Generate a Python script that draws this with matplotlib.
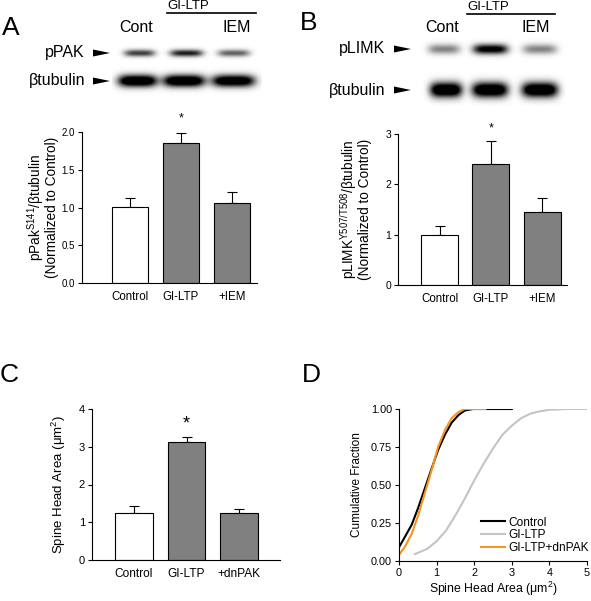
import numpy as np
import matplotlib
matplotlib.use('Agg')
import matplotlib.pyplot as plt
from matplotlib.patches import Polygon

plt.rcParams['font.family'] = ['Liberation Sans', 'DejaVu Sans']
plt.rcParams['mathtext.fontset'] = 'custom'
plt.rcParams['mathtext.rm'] = 'Liberation Sans'
plt.rcParams['mathtext.it'] = 'Liberation Sans:italic'

# ---- data ----
a_labels = ['Control', 'GI-LTP', '+IEM']
a_means = [1.01, 1.85, 1.06]
a_errs = [0.11, 0.14, 0.14]

b_labels = ['Control', 'GI-LTP', '+IEM']
b_means = [1.00, 2.41, 1.45]
b_errs = [0.18, 0.46, 0.28]

c_labels = ['Control', 'GI-LTP', '+dnPAK']
c_means = [1.25, 3.12, 1.24]
c_errs = [0.18, 0.15, 0.11]

# cumulative distributions (panel D)
ctrl_x = [0.0, 0.16, 0.34, 0.51, 0.69, 0.87, 1.04, 1.22, 1.40, 1.58, 1.75, 1.97, 2.3, 3.0]
ctrl_y = [0.09, 0.16, 0.24, 0.35, 0.48, 0.61, 0.73, 0.83, 0.91, 0.96, 0.99, 1.0, 1.0, 1.0]
gi_x = [0.42, 0.75, 1.0, 1.25, 1.5, 1.75, 2.0, 2.25, 2.5, 2.75, 3.0, 3.25, 3.5, 3.75, 4.0, 4.5, 5.0]
gi_y = [0.045, 0.08, 0.13, 0.20, 0.30, 0.41, 0.53, 0.64, 0.74, 0.83, 0.89, 0.94, 0.97, 0.985, 0.995, 1.0, 1.0]
dn_x = [0.0, 0.16, 0.34, 0.51, 0.69, 0.87, 1.04, 1.22, 1.40, 1.58, 1.75, 2.0, 2.3]
dn_y = [0.04, 0.095, 0.18, 0.30, 0.45, 0.60, 0.75, 0.86, 0.94, 0.98, 1.0, 1.0, 1.0]

# blot band intensities (0 = blank, 1 = saturated)
a_ppak = [0.55, 0.65, 0.45]
a_tub = [1.0, 1.0, 0.95]
b_plimk = [0.35, 0.8, 0.35]
b_tub = [1.0, 1.0, 1.0]

W, H = 591, 601
fig = plt.figure(figsize=(W / 100, H / 100), dpi=100)


def px_axes(x0, y0, x1, y1):
    return fig.add_axes([x0 / W, 1 - y1 / H, (x1 - x0) / W, (y1 - y0) / H])


# overlay in pixel coordinates for blots and letters
ov = fig.add_axes([0, 0, 1, 1], zorder=0)
ov.set_xlim(0, W)
ov.set_ylim(H, 0)
ov.axis('off')


def blot(x0, x1, y0, y1, rows):
    # rows: list of (y centre, half height, [(x left, x right), ...], intensities)
    xs = np.linspace(x0, x1, int((x1 - x0) * 2))
    ys = np.linspace(y0, y1, int((y1 - y0) * 2))
    X, Y = np.meshgrid(xs, ys)
    dark = np.zeros_like(X)
    for yc, hh, lanes, vals in rows:
        for (l, r), v in zip(lanes, vals):
            cx, hw = (l + r) / 2, (r - l) / 2
            dark += v * 1.4 * np.exp(-np.abs((X - cx) / hw) ** 4) * np.exp(-((Y - yc) / hh) ** 2)
    img = 1 - np.clip(dark, 0, 1)
    ov.imshow(img, cmap='gray', vmin=0, vmax=1, extent=(x0, x1, y1, y0),
              interpolation='bilinear', aspect='auto')


def arrow(x, y):
    ov.add_patch(Polygon([(x, y - 3.5), (x + 17, y), (x, y + 3.5)], closed=True,
                         facecolor='black', edgecolor='none'))


# panel A blot
blot(112, 262, 38, 96, [
    (53, 3.5, [(124, 155), (170, 203), (218, 250)], a_ppak),
    (81, 6.0, [(118, 157), (163, 205), (212, 255)], a_tub),
])
ov.text(2, 28, 'A', fontsize=19, va='center', ha='left')
ov.text(167, 6, 'GI-LTP', fontsize=9.5, va='center', ha='left')
ov.plot([167, 256], [13, 13], color='black', lw=1.2)
ov.text(136, 27, 'Cont', fontsize=11.5, va='center', ha='center')
ov.text(237, 27, 'IEM', fontsize=11.5, va='center', ha='center')
ov.text(85, 53, 'pPAK', fontsize=11.5, va='center', ha='right')
ov.text(85, 81, 'βtubulin', fontsize=11.5, va='center', ha='right')
arrow(93, 53)
arrow(93, 81)

# panel B blot
blot(420, 566, 34, 106, [
    (49, 5.0, [(428, 460), (473, 508), (523, 557)], b_plimk),
    (90, 7.5, [(430, 462), (472, 508), (522, 558)], b_tub),
])
ov.text(300, 23, 'B', fontsize=19, va='center', ha='left')
ov.text(467, 7, 'GI-LTP', fontsize=9.5, va='center', ha='left')
ov.plot([467, 555], [14, 14], color='black', lw=1.2)
ov.text(442, 28, 'Cont', fontsize=11.5, va='center', ha='center')
ov.text(536, 28, 'IEM', fontsize=11.5, va='center', ha='center')
ov.text(385, 49, 'pLIMK', fontsize=11.5, va='center', ha='right')
ov.text(385, 90, 'βtubulin', fontsize=11.5, va='center', ha='right')
arrow(394, 49)
arrow(394, 90)

ov.text(0, 375, 'C', fontsize=19, va='center', ha='left')
ov.text(302, 375, 'D', fontsize=19, va='center', ha='left')


def style(ax, yfs, xfs):
    for s in ['top', 'right']:
        ax.spines[s].set_visible(False)
    for s in ['left', 'bottom']:
        ax.spines[s].set_linewidth(0.8)
    ax.tick_params(axis='both', width=0.8, length=3, pad=2)
    ax.tick_params(axis='y', labelsize=yfs)
    ax.tick_params(axis='x', labelsize=xfs)


def bar_panel(ax, labels, means, errs, ylim, yticks, fmt, xlim, star_fs, star_off, yfs, xfs):
    x = np.arange(len(means))
    fills = ['white', '#808080', '#808080']
    ax.bar(x, means, width=0.72, color=fills, edgecolor='black', linewidth=0.8, zorder=2)
    ax.errorbar(x, means, yerr=[np.zeros(len(errs)), errs], fmt='none', ecolor='black',
                elinewidth=0.8, capsize=3.5, capthick=0.8, zorder=1)
    ax.set_xlim(*xlim)
    ax.set_ylim(*ylim)
    ax.set_yticks(yticks)
    ax.set_yticklabels([fmt % t for t in yticks])
    ax.set_xticks(x)
    ax.set_xticklabels(labels)
    style(ax, yfs, xfs)
    ax.tick_params(axis='x', length=0, pad=6)
    ax.annotate('*', xy=(1, means[1] + errs[1]), xytext=(0, star_off),
                textcoords='offset points', ha='center', va='bottom', fontsize=star_fs)


axA = px_axes(82, 132, 257, 283)
bar_panel(axA, a_labels, a_means, a_errs, (0, 2), [0, 0.5, 1.0, 1.5, 2.0], '%.1f',
          (-0.94, 2.49), 9, 6, 7.0, 8.3)
axA.set_ylabel('pPak$^{\\mathrm{S141}}$/βtubulin\n(Normalized to Control)',
               fontsize=9.8, linespacing=0.87)
axA.yaxis.set_label_coords(-0.13, 0.5)

axB = px_axes(398, 134, 567, 285)
bar_panel(axB, b_labels, b_means, b_errs, (0, 3), [0, 1, 2, 3], '%d',
          (-0.81, 2.48), 9, 4.5, 7.5, 8.3)
axB.set_ylabel('pLIMK$^{\\mathrm{Y507/T508}}$/βtubulin\n(Normalized to Control)',
               fontsize=9.8, linespacing=0.87)
axB.yaxis.set_label_coords(-0.155, 0.5)

axC = px_axes(92, 409, 280, 560)
bar_panel(axC, c_labels, c_means, c_errs, (0, 4), [0, 1, 2, 3, 4], '%d',
          (-0.8, 2.78), 13, 3, 8.0, 8.6)
axC.set_ylabel('Spine Head Area (μm$^{\\mathrm{2}}$)', fontsize=9.5)
axC.yaxis.set_label_coords(-0.125, 0.5)

axD = px_axes(399, 409, 587, 561)
axD.plot(ctrl_x, ctrl_y, color='black', lw=1.5, label='Control')
axD.plot(gi_x, gi_y, color='#c4c4c4', lw=1.5, label='GI-LTP')
axD.plot(dn_x, dn_y, color='#f7941d', lw=1.5, label='GI-LTP+dnPAK')
axD.set_xlim(0, 5)
axD.set_ylim(0, 1)
axD.set_xticks([0, 1, 2, 3, 4, 5])
axD.set_yticks([0, 0.25, 0.5, 0.75, 1.0])
axD.set_yticklabels(['%.2f' % t for t in [0, 0.25, 0.5, 0.75, 1.0]])
style(axD, 7.8, 7.8)
axD.set_ylabel('Cumulative Fraction', fontsize=8.5)
axD.yaxis.set_label_coords(-0.19, 0.5)
axD.set_xlabel('Spine Head Area (μm$^{\\mathrm{2}}$)', fontsize=8.8, labelpad=1)
axD.legend(loc='lower right', bbox_to_anchor=(1.05, 0.0), frameon=False, fontsize=8.6,
           handlelength=2.0, handletextpad=0.35, labelspacing=0.05, borderaxespad=0.2)

fig.savefig('out.png', dpi=100)
